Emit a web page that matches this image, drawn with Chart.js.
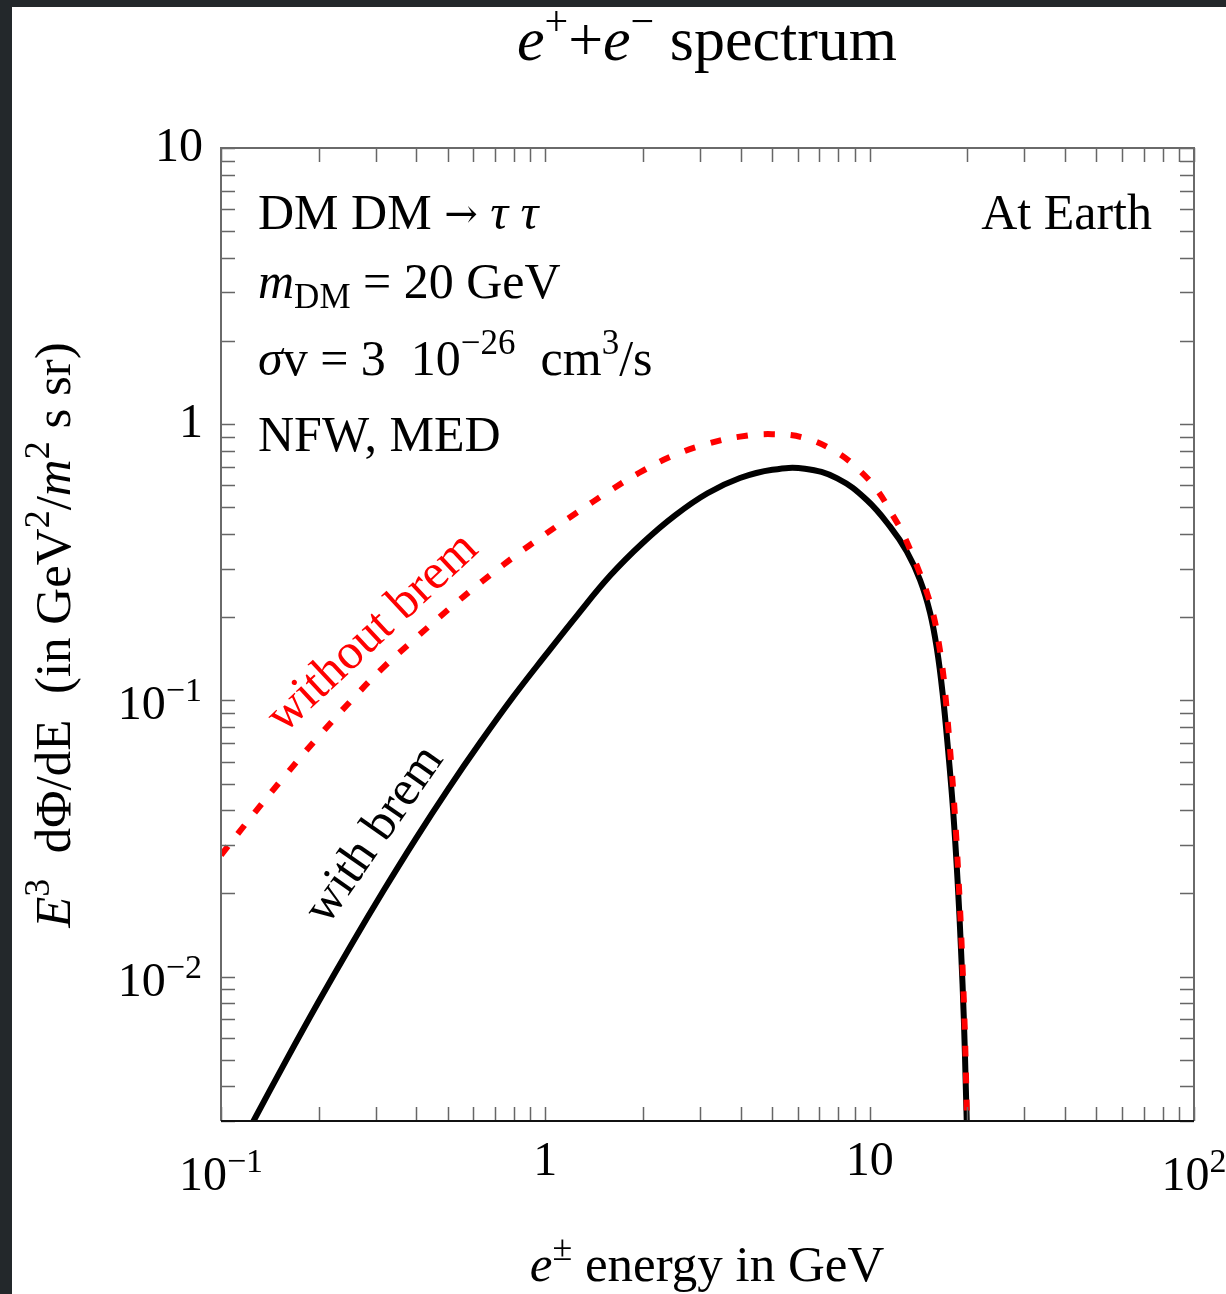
<!DOCTYPE html>
<html>
<head>
<meta charset="utf-8">
<script src="https://cdn.jsdelivr.net/npm/chart.js@4.4.0/dist/chart.umd.min.js"></script>
<style>
  html, body { margin: 0; padding: 0; background: #23282b; }
  canvas { display: block; }
</style>
</head>
<body>
<canvas id="spectrum" width="1226" height="1294"></canvas>
<script>
// e+ + e- flux at Earth, E^3 dPhi/dE
const energyNoBrem = [0.1, 0.1259, 0.1585, 0.1995, 0.2512, 0.3162, 0.398, 0.501, 0.631, 0.794, 1.0, 1.259, 1.585, 1.995, 2.512, 3.162, 3.981, 5.012, 6.31, 7.935, 9.276, 10.54, 11.81, 12.59, 13.95, 14.98, 15.80, 16.37, 16.84, 17.14, 17.70, 18.27, 18.80, 19.24, 19.60, 19.86, 19.96, 20.0];
const fluxNoBrem   = [0.02754, 0.03873, 0.05383, 0.07379, 0.09954, 0.1315, 0.1679, 0.2128, 0.2667, 0.3289, 0.3999, 0.4808, 0.5754, 0.6776, 0.7745, 0.8492, 0.9016, 0.9204, 0.8913, 0.790, 0.6826, 0.5779, 0.4656, 0.4074, 0.3092, 0.2475, 0.1987, 0.1587, 0.1257, 0.1029, 0.0661, 0.0401, 0.0224, 0.01248, 0.00697, 0.00389, 0.00278, 0.00155];

const energyWithBrem = [0.1, 0.1274, 0.1585, 0.1995, 0.2512, 0.3162, 0.398, 0.501, 0.631, 0.794, 1.0, 1.259, 1.585, 1.995, 2.512, 3.162, 3.981, 5.012, 6.31, 7.943, 9.80, 11.56, 13.02, 14.30, 15.36, 16.14, 16.78, 17.45, 18.08, 18.66, 19.13, 19.52, 19.80, 19.94, 20.0];
const fluxWithBrem   = [0.001807, 0.003076, 0.004955, 0.008072, 0.01294, 0.02037, 0.03148, 0.04764, 0.07063, 0.1026, 0.1455, 0.2046, 0.2831, 0.3715, 0.4677, 0.5623, 0.6383, 0.6839, 0.6902, 0.6368, 0.5314, 0.4255, 0.3457, 0.2729, 0.2072, 0.1522, 0.1064, 0.0661, 0.0401, 0.0224, 0.01248, 0.00697, 0.00389, 0.00278, 0.00158];

// tick labels: [base, exponent]
const xLabelValues = [0.1, 1, 10, 100];
const xLabelTexts  = [['10', '\u22121'], ['1', ''], ['10', ''], ['10', '2']];
const yLabelValues = [0.01, 0.1, 1, 10];
const yLabelTexts  = [['10', '\u22122'], ['10', '\u22121'], ['1', ''], ['10', '']];
const xDecades = [0.1, 1, 10];
const yDecades = [0.001, 0.01, 0.1, 1];

const SERIF = "'Liberation Serif', 'Times New Roman', serif";

function fontOf(r) {
  return (r.italic ? 'italic ' : '') + r.size + 'px ' + (r.family || SERIF);
}

// draw a row of text runs (for super/subscripts)
function drawRich(ctx, runs, x, y, align) {
  let w = 0;
  runs.forEach(r => { ctx.font = fontOf(r); r.w = ctx.measureText(r.t).width; w += r.w; });
  let cx = align === 'center' ? x - w / 2 : align === 'right' ? x - w : x;
  ctx.textAlign = 'left';
  ctx.textBaseline = 'alphabetic';
  runs.forEach(r => {
    ctx.font = fontOf(r);
    ctx.fillStyle = r.color || '#000';
    ctx.fillText(r.t, cx, y + (r.dy || 0));
    cx += r.w;
  });
}

function minorTicks(decades, lo, hi) {
  const out = [];
  decades.forEach(d => { for (let m = 1; m <= 9; m++) { const v = d * m; if (v >= lo * 0.999 && v <= hi * 1.001) out.push(v); } });
  out.push(hi);
  return out;
}

const background = {
  id: 'background',
  beforeDraw(chart) {
    const c = chart.ctx;
    c.save();
    c.fillStyle = '#23282b';
    c.fillRect(0, 0, chart.width, chart.height);
    c.fillStyle = '#ffffff';
    c.fillRect(12, 7, chart.width - 12, chart.height - 7);
    c.restore();
  }
};

const frame = {
  id: 'frame',
  afterDatasetsDraw(chart) {
    const c = chart.ctx;
    const { left, right, top, bottom } = chart.chartArea;
    const xs = chart.scales.x, ys = chart.scales.y;
    const tl = 14;
    c.save();
    // ticks
    c.strokeStyle = '#666';
    c.lineWidth = 1.5;
    c.beginPath();
    minorTicks(xDecades, 0.1, 100).forEach(v => {
      const px = Math.round(xs.getPixelForValue(v)) + 0.5;
      c.moveTo(px, bottom); c.lineTo(px, bottom - tl);
      c.moveTo(px, top); c.lineTo(px, top + tl);
    });
    minorTicks(yDecades, 0.003, 10).forEach(v => {
      const py = Math.round(ys.getPixelForValue(v)) + 0.5;
      c.moveTo(left, py); c.lineTo(left + tl, py);
      c.moveTo(right, py); c.lineTo(right - tl, py);
    });
    c.stroke();
    // frame
    c.lineWidth = 2;
    c.strokeStyle = '#6a6a6a';
    c.beginPath();
    c.moveTo(left, bottom); c.lineTo(left, top); c.lineTo(right, top); c.lineTo(right, bottom);
    c.stroke();
    c.strokeStyle = '#111';
    c.beginPath();
    c.moveTo(left, bottom); c.lineTo(right, bottom);
    c.stroke();
    c.restore();
  },
  afterDraw(chart) {
    const c = chart.ctx;
    const xs = chart.scales.x, ys = chart.scales.y;
    const S = 48, SUP = 34;
    c.save();
    // x tick labels
    xLabelValues.forEach((v, i) => {
      const [b, e] = xLabelTexts[i];
      const px = xs.getPixelForValue(v);
      if (e) drawRich(c, [{ t: b, size: S }, { t: e, size: SUP, dy: -18 }], px, 1190, 'center');
      else drawRich(c, [{ t: b, size: S }], px, 1175, 'center');
    });
    // y tick labels
    yLabelValues.forEach((v, i) => {
      const [b, e] = yLabelTexts[i];
      const py = ys.getPixelForValue(v);
      if (e) drawRich(c, [{ t: b, size: S }, { t: e, size: SUP, dy: -18 }], 202, py + 19, 'right');
      else drawRich(c, [{ t: b, size: S }], 203, py + 13, 'right');
    });

    // title
    drawRich(c, [
      { t: 'e', size: 62, italic: true }, { t: '+', size: 42, dy: -25 },
      { t: '+', size: 62 },
      { t: 'e', size: 62, italic: true }, { t: '\u2212', size: 42, dy: -25 },
      { t: ' spectrum', size: 62 }
    ], 707, 60, 'center');

    // x axis title
    drawRich(c, [
      { t: 'e', size: 51, italic: true }, { t: '\u00b1', size: 36, dy: -21 },
      { t: ' energy in GeV', size: 51 }
    ], 707, 1281, 'center');

    // y axis title (rotated)
    c.save();
    c.translate(70, 635);
    c.rotate(-Math.PI / 2);
    drawRich(c, [
      { t: 'E', size: 51, italic: true }, { t: '3', size: 36, dy: -21 },
      { t: '  d\u03a6/dE  (in GeV', size: 51 }, { t: '2', size: 36, dy: -21 },
      { t: '/', size: 51 }, { t: 'm', size: 51, italic: true }, { t: '2', size: 36, dy: -21 },
      { t: ' s sr)', size: 51 }
    ], 0, 0, 'center');
    c.restore();

    // annotations
    const A = 50, AS = 35;
    drawRich(c, [
      { t: 'DM DM ', size: A },
      { t: '\u2192', size: 40, family: "'DejaVu Serif', serif", dy: -2 },
      { t: ' ', size: A }, { t: '\u03c4', size: A, italic: true },
      { t: ' ', size: A }, { t: '\u03c4', size: A, italic: true }
    ], 258, 229, 'left');
    drawRich(c, [
      { t: 'm', size: A, italic: true }, { t: 'DM', size: AS, dy: 10 },
      { t: ' = 20 GeV', size: A }
    ], 258, 298, 'left');
    drawRich(c, [
      { t: '\u03c3', size: A, italic: true }, { t: 'v = 3  10', size: A },
      { t: '\u221226', size: AS, dy: -21 }, { t: '  cm', size: A },
      { t: '3', size: AS, dy: -21 }, { t: '/s', size: A }
    ], 258, 375, 'left');
    drawRich(c, [{ t: 'NFW, MED', size: A }], 258, 451, 'left');
    drawRich(c, [{ t: 'At Earth', size: A }], 1152, 229, 'right');

    // curve labels
    c.font = '50px ' + SERIF;
    c.textAlign = 'center';
    c.textBaseline = 'middle';
    c.save();
    c.translate(373, 633);
    c.rotate(-43 * Math.PI / 180);
    c.fillStyle = '#ff0000';
    c.fillText('without brem', 0, 0);
    c.restore();
    c.save();
    c.translate(375, 835);
    c.rotate(-55 * Math.PI / 180);
    c.fillStyle = '#000';
    c.fillText('with brem', 0, 0);
    c.restore();

    c.restore();
  }
};

const ctx = document.getElementById('spectrum');
new Chart(ctx, {
  type: 'line',
  data: {
    datasets: [{
      label: 'without brem',
      data: energyNoBrem.map((e, i) => ({ x: e, y: fluxNoBrem[i] })),
      borderColor: '#ff0000',
      borderWidth: 6,
      borderDash: [11, 16],
      pointRadius: 0,
      tension: 0.4,
      fill: false
    }, {
      label: 'with brem',
      data: energyWithBrem.map((e, i) => ({ x: e, y: fluxWithBrem[i] })),
      borderColor: '#000000',
      borderWidth: 6,
      pointRadius: 0,
      tension: 0.4,
      fill: false
    }]
  },
  options: {
    responsive: false,
    animation: false,
    layout: { padding: { left: 221, top: 148, right: 32, bottom: 173 } },
    plugins: { legend: { display: false }, tooltip: { enabled: false } },
    scales: {
      x: { type: 'logarithmic', min: 0.1, max: 100, display: false },
      y: { type: 'logarithmic', min: 0.003, max: 10, display: false }
    }
  },
  plugins: [background, frame]
});
</script>
</body>
</html>
